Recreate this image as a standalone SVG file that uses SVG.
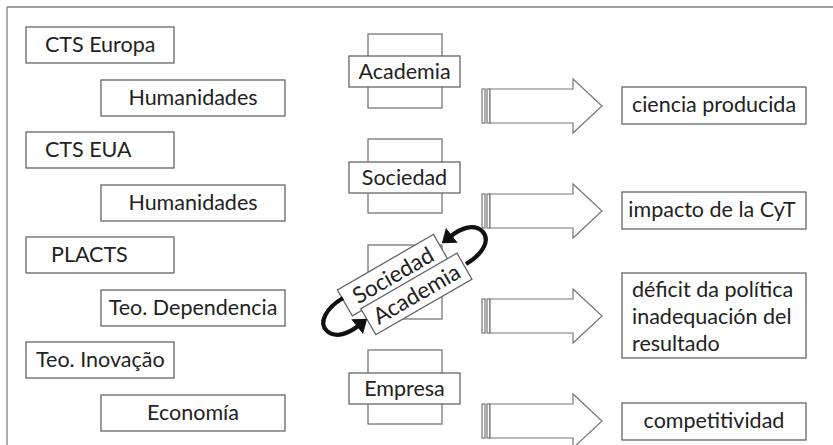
<svg xmlns="http://www.w3.org/2000/svg" width="833" height="445" viewBox="0 0 833 445">
<style>
.box{fill:#fff;stroke:#666;stroke-width:1.3}
.back{fill:#fff;stroke:#777;stroke-width:1.3}
.t{font-family:Lato,"Open Sans","Liberation Sans",sans-serif;font-size:21.5px;fill:#222}
.r{font-size:22.5px}
.c{text-anchor:middle}
.frame{stroke:#808080;stroke-width:1.3;fill:none}
.blk{fill:#fff;stroke:#777;stroke-width:1.2}
.curve{fill:none;stroke:#111;stroke-width:4.2}
</style>
<defs>
<g id="bigArrow">
<rect class="blk" x="482" y="-17" width="3" height="34"/>
<rect class="blk" x="487" y="-17" width="3" height="34"/>
<polygon class="blk" points="490,-17 573,-17 573,-27 602,0 573,27 573,17 490,17"/>
</g>
<marker id="head" viewBox="0 0 12 18" refX="1" refY="9" markerWidth="13" markerHeight="19" markerUnits="userSpaceOnUse" orient="auto">
<path d="M0,0 L12,9 L0,18 z" fill="#111"/>
</marker>
</defs>
<g id="frame">
<line class="frame" x1="7" y1="7" x2="833" y2="7"/>
<line class="frame" x1="7" y1="7" x2="7" y2="445"/>
</g>
<g id="cts-europa"><rect class="box" x="26" y="27" width="148" height="36"/><text class="t" x="45" y="52">CTS Europa</text></g>
<g id="humanidades-1"><rect class="box" x="101" y="80" width="184" height="36"/><text class="t c" x="193" y="105">Humanidades</text></g>
<g id="cts-eua"><rect class="box" x="26" y="132" width="148" height="36"/><text class="t" x="45" y="157">CTS EUA</text></g>
<g id="humanidades-2"><rect class="box" x="101" y="185" width="184" height="36"/><text class="t c" x="193" y="210">Humanidades</text></g>
<g id="placts"><rect class="box" x="26" y="237" width="148" height="36"/><text class="t" x="51" y="262">PLACTS</text></g>
<g id="teo-dependencia"><rect class="box" x="101" y="290" width="184" height="36"/><text class="t c" x="193" y="315">Teo. Dependencia</text></g>
<g id="teo-inovacao"><rect class="box" x="26" y="342" width="148" height="36"/><text class="t" x="36" y="367">Teo. Inovação</text></g>
<g id="economia"><rect class="box" x="101" y="395" width="184" height="36"/><text class="t c" x="193" y="420">Economía</text></g>

<g id="academia"><rect class="back" x="368" y="34" width="74" height="74"/><rect class="box" x="349" y="56" width="111" height="31"/><text class="t c" x="404.5" y="79">Academia</text></g>
<g id="sociedad"><rect class="back" x="368" y="139" width="74" height="74"/><rect class="box" x="349" y="162" width="111" height="31"/><text class="t c" x="404.5" y="185">Sociedad</text></g>
<g id="sociedad-academia">
<rect class="back" x="368" y="245" width="74" height="74"/>
<g transform="translate(392.9,275.2) rotate(-30)"><rect class="box" x="-55.5" y="-15" width="111" height="30"/><text class="t r c" x="0" y="8">Sociedad</text></g>
<g transform="translate(416.4,293.9) rotate(-30)"><rect class="box" x="-55.5" y="-15" width="111" height="30"/><text class="t r c" x="0" y="8">Academia</text></g>
</g>
<g id="empresa"><rect class="back" x="368" y="350" width="74" height="74"/><rect class="box" x="349" y="373" width="111" height="31"/><text class="t c" x="404.5" y="396">Empresa</text></g>

<g id="ciencia"><rect class="box" x="622" y="87" width="184" height="37"/><text class="t c" x="714" y="112">ciencia producida</text></g>
<g id="impacto"><rect class="box" x="622" y="192" width="184" height="37"/><text class="t c" x="712" y="217">impacto de la CyT</text></g>
<g id="deficit"><rect class="box" x="622" y="273" width="184" height="85"/><text class="t" x="632" y="297">déficit da política</text><text class="t" x="632" y="324">inadequación del</text><text class="t" x="632" y="351">resultado</text></g>
<g id="competitividad"><rect class="box" x="622" y="403" width="184" height="37"/><text class="t c" x="714" y="428">competitividad</text></g>

<g id="connectors">
<use href="#bigArrow" transform="translate(0,106)"/>
<use href="#bigArrow" transform="translate(0,211)"/>
<use href="#bigArrow" transform="translate(0,316)"/>
<use href="#bigArrow" transform="translate(0,421)"/>
<path class="curve" marker-end="url(#head)" d="M466,264 C483,254 491,240 482,231 C473,223 460,229 451,236"/>
<path class="curve" marker-end="url(#head)" d="M343,298 C326,308 318,323 327,331 C336,339 349,333 358,326"/>
</g>
</svg>
